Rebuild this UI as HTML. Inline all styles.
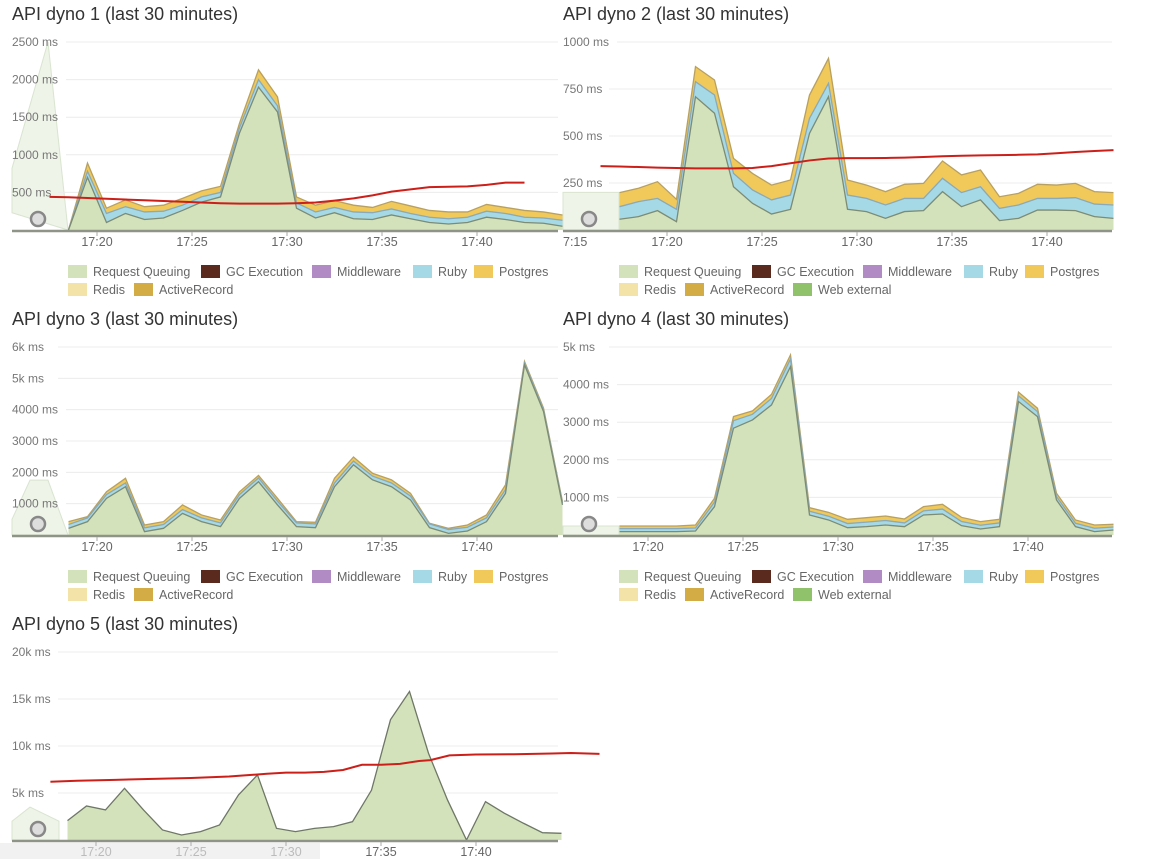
<!DOCTYPE html>
<html><head><meta charset="utf-8">
<style>
html,body{margin:0;padding:0;background:#fff;}
body{width:1167px;height:859px;overflow:hidden;font-family:"Liberation Sans",sans-serif;}
svg text{font-family:"Liberation Sans",sans-serif;}
</style></head>
<body>
<svg id="root" width="1167" height="859" viewBox="0 0 1167 859" xmlns="http://www.w3.org/2000/svg"></svg>
<script>
// ---- data (minutes past 17:00) ----
const p1Times=[18.5,19.5,20.5,21.5,22.5,23.5,24.5,25.5,26.5,27.5,28.5,29.5,30.5,31.5,32.5,33.5,34.5,35.5,36.5,37.5,38.5,39.5,40.5,41.5,42.5,43.5,44.5];
const p1Queue=[0,700,100,220,140,160,260,370,440,1290,1900,1570,290,160,230,150,140,200,150,100,80,100,170,140,100,90,50];
const p1Ruby=[0,80,120,90,100,90,70,70,60,70,100,80,70,80,70,90,90,80,70,70,70,70,80,80,70,70,80];
const p1Postgres=[0,110,70,90,70,80,90,80,80,60,130,120,80,90,90,90,70,100,100,90,90,70,90,80,90,80,70];
const p1AvgTimes=[17.5,18.5,19.5,20.5,21.5,22.5,23.5,24.5,25.5,26.5,27.5,28.5,29.5,30.5,31.5,32.5,33.5,34.5,35.5,36.5,37.5,38.5,39.5,40.5,41.5,42.5];
const p1Avg=[440,435,425,415,405,395,385,375,365,355,350,350,350,355,365,390,420,460,510,540,570,575,580,600,630,630];

const p2Times=[17.5,18.5,19.5,20.5,21.5,22.5,23.5,24.5,25.5,26.5,27.5,28.5,29.5,30.5,31.5,32.5,33.5,34.5,35.5,36.5,37.5,38.5,39.5,40.5,41.5,42.5,43.5];
const p2Queue=[57,71,103,44,709,621,230,142,85,110,514,709,110,98,62,98,103,204,124,160,50,62,106,106,103,71,62];
const p2Ruby=[67,80,65,66,80,97,71,71,75,76,80,71,76,70,71,70,65,71,75,70,65,71,62,62,69,67,71];
const p2Postgres=[75,71,89,53,80,80,80,88,79,80,124,133,80,71,71,75,80,92,94,89,62,62,75,71,76,66,66];
const p2AvgTimes=[16.5,17.5,18.5,19.5,20.5,21.5,22.5,23.5,24.5,25.5,26.5,27.5,28.5,29.5,30.5,31.5,32.5,33.5,34.5,35.5,36.5,37.5,38.5,39.5,40.5,41.5,42.5,43.5];
const p2Avg=[340,338,335,332,330,328,328,328,330,340,355,370,380,382,382,383,385,388,392,395,397,398,400,402,408,415,420,425];

const p3Times=p1Times;
const p3Queue=[213,426,1170,1540,106,213,690,426,266,1170,1700,960,266,234,1540,2240,1760,1540,1120,234,53,128,426,1330,5430,3940,960];
const p3Ruby=[120,120,120,120,120,120,120,120,120,120,120,120,120,120,120,120,120,120,120,120,120,120,120,120,60,60,60];
const p3Postgres=[93,39,90,150,94,93,150,94,94,90,80,90,40,51,150,130,90,100,90,19,40,72,94,150,50,50,45];

const p4Times=p1Times;
const p4Queue=[89,89,89,89,106,754,2840,3060,3460,4480,532,400,195,222,266,222,532,559,248,160,222,3550,3150,931,222,89,133];
const p4Ruby=[80,80,80,80,80,120,200,150,170,200,100,100,110,120,120,100,110,130,110,100,100,150,130,90,90,90,80];
const p4Postgres=[71,71,71,71,80,102,110,90,110,110,95,103,112,119,119,104,112,127,112,95,95,100,90,89,88,87,71];

const p5Times=p1Times;
const p5Queue=[2060,3620,3200,5500,3200,1070,530,890,1600,4800,6920,1240,890,1240,1420,1950,5300,12800,15800,9230,4260,0,4080,2840,1780,780,710];
const p5AvgTimes=[17.6,19,21,23,25,27,28,29,30,31,32,33,34,35,36,37,37.6,38.6,40,42,44,45,46.5];
const p5Avg=[6200,6300,6400,6500,6600,6750,6900,7050,7170,7170,7250,7450,8000,8000,8100,8400,8500,9000,9100,9120,9200,9250,9160];

const p1Ticks=[500,1000,1500,2000,2500];
const p1TickLabels=["500 ms","1000 ms","1500 ms","2000 ms","2500 ms"];
const p2Ticks=[250,500,750,1000];
const p2TickLabels=["250 ms","500 ms","750 ms","1000 ms"];
const p3Ticks=[1000,2000,3000,4000,5000,6000];
const p3TickLabels=["1000 ms","2000 ms","3000 ms","4000 ms","5k ms","6k ms"];
const p4Ticks=[1000,2000,3000,4000,5000];
const p4TickLabels=["1000 ms","2000 ms","3000 ms","4000 ms","5k ms"];
const p5Ticks=[5000,10000,15000,20000];
const p5TickLabels=["5k ms","10k ms","15k ms","20k ms"];
const xTickMinutes=[20,25,30,35,40];
const xTickLabels=["17:20","17:25","17:30","17:35","17:40"];

const NS="http://www.w3.org/2000/svg";
const root=document.getElementById('root');
function mk(tag,attrs,parent){const e=document.createElementNS(NS,tag);for(const k in attrs)e.setAttribute(k,attrs[k]);(parent||root).appendChild(e);return e;}

const C={queue:'#d3e2bb',ruby:'#a6d9e6',pg:'#f0c95a',redis:'#f4e3a8',ar:'#d3ac45',gc:'#5b2a1f',mw:'#b18bc3',web:'#8fc26a'};

function panel(o){
  const g=mk('g',{});
  
  
  const X=t=>o.x20+19*(t-20);
  const Y=v=>o.bottom-(v/o.yMax)*(o.bottom-o.top);
  const title=mk('text',{x:o.left,y:o.top-22,'font-size':18,fill:'#333'},g);
  title.textContent=o.title;
  
  
  // faded navigator region
  if(o.fade){
    const f=mk('polygon',{points:o.fade.map(p=>p[0]+','+Y(p[1])).join(' '),fill:'#eef4e8',stroke:'#d9e4d0','stroke-width':1},g);
    
    
  }
  // grid
  o.ticks.forEach((v,i)=>{
    const gl=mk('line',{x1:o.left+(o.labels[i].length>6?54:46),x2:o.right,y1:Y(v),y2:Y(v),stroke:'#ececec','stroke-width':1},g);
    
    
    const tl=mk('text',{x:o.left,y:Y(v)+4,'font-size':12,fill:'#777'},g);
    tl.textContent=o.labels[i];
    
    
  });
  // stacked areas
  const T=o.times;
  const layers=[];let base=T.map(()=>0);
  o.series.forEach(s=>{const top=base.map((b,i)=>b+s.vals[i]);layers.push({s,lo:base,hi:top});base=top;});
  layers.slice().reverse().forEach(L=>{
    let pts=T.map((t,i)=>X(t)+','+Y(L.hi[i]));
    pts=pts.concat(T.map((t,i)=>X(t)+','+Y(L.lo[i])).reverse());
    const a=mk('polygon',{points:pts.join(' '),fill:L.s.color},g);
    
    
    const ln=mk('polyline',{points:T.map((t,i)=>X(t)+','+Y(L.hi[i])).join(' '),fill:'none',stroke:L.s.line,'stroke-width':1.3},g);
    
    
  });
  // avg line
  if(o.avg){
    const r=mk('polyline',{points:o.avgT.map((t,i)=>X(t)+','+Y(o.avg[i])).join(' '),fill:'none',stroke:'#cc1f1a','stroke-width':2},g);
    
    
  }
  // axis
  const ax=mk('line',{x1:o.left,x2:o.right,y1:o.bottom+1,y2:o.bottom+1,stroke:'#8f9488','stroke-width':2.5},g);
  
  
  if(o.mask){
    const m=mk('rect',{x:0,y:o.bottom+3,width:o.mask,height:859-o.bottom-3,fill:'#f1f1f1'},g);
    
    
  }
  xTickMinutes.forEach((m,i)=>{
    const tk=mk('line',{x1:X(m),x2:X(m),y1:o.bottom+2,y2:o.bottom+6,stroke:'#aaa'},g);
    
    
    const tl=mk('text',{x:X(m),y:o.bottom+16,'font-size':12.5,fill:(o.mask&&X(m)<o.mask)?'#bbb':'#666','text-anchor':'middle'},g);
    tl.textContent=xTickLabels[i];
    
    
  });
  if(o.extraX){
    const tl=mk('text',{x:o.left,y:o.bottom+16,'font-size':12.5,fill:'#666'},g);
    tl.textContent=o.extraX;
    
    
  }
  // handle
  const h=mk('circle',{cx:o.left+26,cy:o.bottom-11,r:7,fill:'#ddd',stroke:'#888','stroke-width':2.5},g);
  
  
  // legend
  if(o.legend){
    o.legend.forEach(it=>{
      const lg=mk('g',{},g);
      
      
      const y=o.bottom+(it[3]?59:41);
      mk('rect',{x:it[0],y:y-6,width:19,height:13,fill:it[2]},lg);
      const t=mk('text',{x:it[0]+25,y:y+5,'font-size':12.5,fill:'#666'},lg);
      t.textContent=it[1];
    });
  }
}

function legendFor(l,web){
  const L=[[l,'Request Queuing',C.queue,0],[l+133,'GC Execution',C.gc,0],[l+244,'Middleware',C.mw,0],[l+345,'Ruby',C.ruby,0],[l+406,'Postgres',C.pg,0],[l,'Redis',C.redis,1],[l+66,'ActiveRecord',C.ar,1]];
  if(web)L.push([l+174,'Web external',C.web,1]);
  return L;
}
const S=(q,r,p)=>[{key:'request-queuing',vals:q,color:C.queue,line:'#7d8b72'},{key:'ruby',vals:r,color:C.ruby,line:'#8ab'},{key:'postgres',vals:p,color:C.pg,line:'#b8a060'}];

panel({name:'api-dyno-1-chart',title:'API dyno 1 (last 30 minutes)',left:12,right:558,top:42,bottom:230,yMax:2500,x20:97,ticks:p1Ticks,labels:p1TickLabels,times:p1Times,series:S(p1Queue,p1Ruby,p1Postgres),avg:p1Avg,avgT:p1AvgTimes,legend:legendFor(68,false),fade:[[12,230],[12,820],[48,2500],[68,0]]});
panel({name:'api-dyno-2-chart',title:'API dyno 2 (last 30 minutes)',left:563,right:1112,top:42,bottom:230,yMax:1000,x20:667,ticks:p2Ticks,labels:p2TickLabels,times:p2Times,series:S(p2Queue,p2Ruby,p2Postgres),avg:p2Avg,avgT:p2AvgTimes,legend:legendFor(619,true),extraX:'7:15',fade:[[563,0],[563,200],[619,200],[619,0]]});
panel({name:'api-dyno-3-chart',title:'API dyno 3 (last 30 minutes)',left:12,right:558,top:347,bottom:535,yMax:6000,x20:97,ticks:p3Ticks,labels:p3TickLabels,times:p3Times,series:S(p3Queue,p3Ruby,p3Postgres),legend:legendFor(68,false),fade:[[12,0],[12,500],[30,1750],[48,1750],[68,0]]});
panel({name:'api-dyno-4-chart',title:'API dyno 4 (last 30 minutes)',left:563,right:1112,top:347,bottom:535,yMax:5000,x20:648,ticks:p4Ticks,labels:p4TickLabels,times:p4Times,series:S(p4Queue,p4Ruby,p4Postgres),legend:legendFor(619,true),fade:[[563,0],[563,240],[619,240],[619,0]]});
panel({name:'api-dyno-5-chart',title:'API dyno 5 (last 30 minutes)',left:12,right:558,top:652,bottom:840,yMax:20000,x20:96,ticks:p5Ticks,labels:p5TickLabels,times:p5Times,series:[{key:'request-queuing',vals:p5Queue,color:C.queue,line:'#6e7766'}],avg:p5Avg,avgT:p5AvgTimes,mask:320,fade:[[12,0],[12,2000],[30,3500],[59,2000],[59,0]]});
</script>
</body></html>
